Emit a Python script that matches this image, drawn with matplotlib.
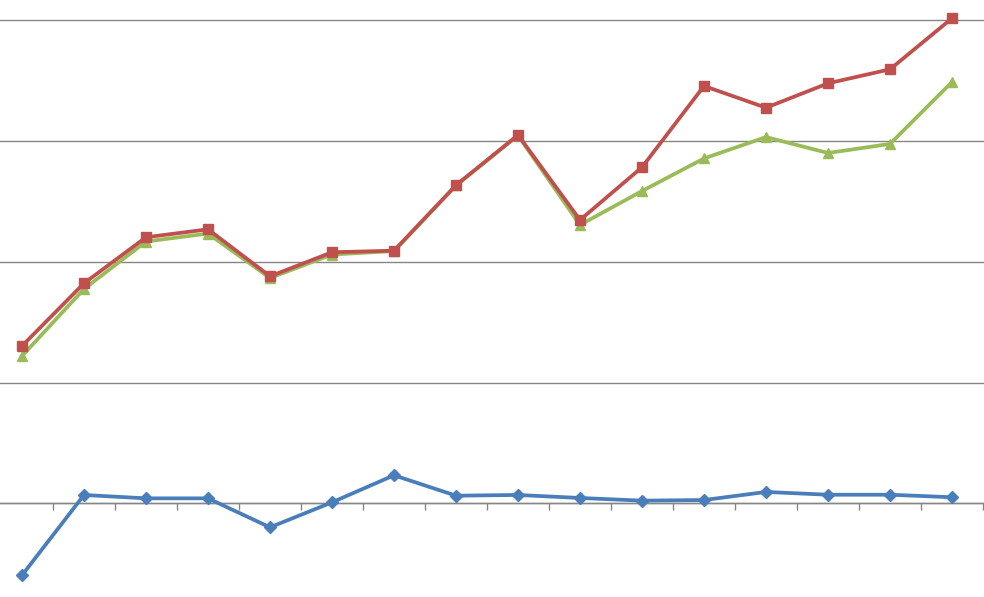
import numpy as np
import matplotlib
matplotlib.use("Agg")
import matplotlib.pyplot as plt

# values (gridline step = 10)
cats = np.arange(16)
blue = [-5.96, 0.69, 0.41, 0.41, -1.99, 0.08, 2.32, 0.63, 0.69, 0.44, 0.22, 0.27, 0.94, 0.71, 0.71, 0.50]
red = [13.03, 18.22, 22.03, 22.69, 18.80, 20.79, 20.92, 26.34, 30.50, 23.46, 27.83, 34.56, 32.76, 34.78, 35.94, 40.17]
green = [12.20, 17.75, 21.68, 22.34, 18.66, 20.60, 20.89, 26.32, 30.46, 23.05, 25.86, 28.56, 30.33, 29.01, 29.76, 34.89]
grid_vals = [0, 10, 20, 30, 40]

fig = plt.figure(figsize=(9.84, 5.97), dpi=100)
ax = fig.add_axes([0, 0, 1, 1])

ax.plot(cats, blue, color='#4A7EBB', lw=2.7, marker='D', ms=6.6, zorder=3)
ax.plot(cats, green, color='#9BBB59', lw=2.7, marker='^', ms=7.4, zorder=4)
ax.plot(cats, red, color='#C0504D', lw=2.7, marker='s', ms=6.9, zorder=5)

ax.set_yticks(grid_vals)
ax.yaxis.grid(True, color='#868686', lw=1.0)
ax.tick_params(axis='y', length=0, labelleft=False)
ax.set_axisbelow(True)

for s in ['top', 'left', 'right']:
    ax.spines[s].set_visible(False)
ax.spines['bottom'].set_position(('data', 0))
ax.spines['bottom'].set_color('#868686')
ax.spines['bottom'].set_linewidth(1.0)
ax.set_xticks(np.arange(-0.5, 16, 1))
ax.tick_params(axis='x', direction='out', length=5, width=1.0, color='#868686', labelbottom=False)

# limits last, so the ticks don't widen them
ax.set_xlim(-0.355, 15.516)
ax.set_ylim(-7.76, 41.68)

fig.savefig('out.png', dpi=100)
